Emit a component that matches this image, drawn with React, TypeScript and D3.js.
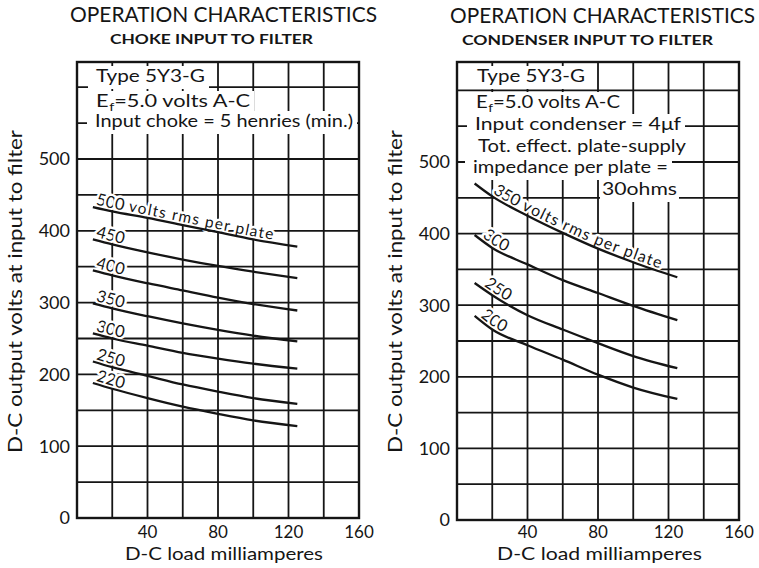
import React from "react";
import * as d3 from "d3";

// ---------------- data ----------------
const xTickValues = [40, 80, 120, 160];
const yTickValues = [0, 100, 200, 300, 400, 500];
const xGridValues = [0, 20, 40, 60, 80, 100, 120, 140, 160];
const yGridValues = [0, 50, 100, 150, 200, 250, 300, 350, 400, 450, 500, 550, 600];

// Choke input (left)
const chokeLoadMa = [9, 20, 40, 60, 80, 100, 125];
const choke500 = [433, 427, 418, 408, 398, 388, 378];
const choke450 = [388, 381, 370, 360, 351, 343, 334];
const choke400 = [345, 338, 327, 317, 307, 298, 289];
const choke350 = [299, 292, 281, 271, 262, 254, 246];
const choke300 = [257, 250, 240, 230, 222, 215, 208];
const choke250 = [218, 210, 198, 186, 176, 167, 159];
const choke220 = [188, 180, 167, 155, 145, 136, 128];
const chokeLabels = ["500", "450", "400", "350", "300", "250", "220"];

// Condenser input (right)
const condLoadMa = [10, 20, 40, 60, 80, 100, 125];
const cond350 = [470, 452, 425, 401, 379, 360, 339];
const cond300 = [398, 380, 357, 335, 317, 299, 279];
const cond250 = [331, 314, 286, 266, 247, 229, 212];
const cond200 = [285, 266, 244, 224, 203, 185, 169];
const condLabels = ["350", "300", "250", "200"];

const chokeNotes = ["Type 5Y3-G", "E|f|=5.0 volts A-C", "Input choke = 5 henries (min.)"];
const condNotes = [
  "Type 5Y3-G",
  "E|f|=5.0 volts A-C",
  "Input condenser = 4μf",
  "Tot. effect. plate-supply",
  "impedance per plate =",
  "30ohms",
];

const titleText = "OPERATION CHARACTERISTICS";
const chokeSubtitle = "CHOKE INPUT TO FILTER";
const condSubtitle = "CONDENSER INPUT TO FILTER";
const yTitle = "D-C output volts at input to filter";
const xTitle = "D-C load milliamperes";
const rmsSuffix = " volts rms per plate";

// ---------------- layout ----------------
const W = 759;
const H = 568;
const FONT = "Lato, 'DejaVu Sans', sans-serif";
const INK = "#151515";

type NoteLayout = { x: number; y: number; w: number };

const leftLayout = {
  id: "choke",
  x0: 77,
  x1: 359,
  yZero: 518,
  y500: 159,
  top: 62,
  titleX: 70,
  titleY: 22,
  titleW: 307,
  subX: 110,
  subY: 44,
  subW: 203,
  yTitleX: 22,
  xTitleX: 125,
  xTitleW: 198,
  labelOffsets: [2, 2, 2, 2, 2, 2, 2],
  suffixSize: 15.5,
  notes: [
    { x: 96, y: 82, w: 109 },
    { x: 96, y: 107, w: 154 },
    { x: 95, y: 127, w: 258 },
  ] as NoteLayout[],
};

const rightLayout = {
  id: "cond",
  x0: 457,
  x1: 739,
  yZero: 520,
  y500: 162,
  top: 62,
  titleX: 450,
  titleY: 23,
  titleW: 305,
  subX: 462,
  subY: 45,
  subW: 251,
  yTitleX: 402,
  xTitleX: 497,
  xTitleW: 205,
  labelOffsets: [20, 7, 9, 5],
  suffixSize: 16,
  notes: [
    { x: 477, y: 82, w: 108 },
    { x: 476, y: 108, w: 144 },
    { x: 475, y: 130, w: 206 },
    { x: 478, y: 152, w: 208 },
    { x: 473, y: 173, w: 195 },
    { x: 602, y: 195, w: 75 },
  ] as NoteLayout[],
};

type Layout = typeof leftLayout;

function NoteText({ text, n }: { text: string; n: NoteLayout }) {
  const parts = text.split("|");
  return (
    <text
      x={n.x}
      y={n.y}
      fontFamily={FONT}
      fontSize={18}
      fill={INK}
      textLength={n.w}
      lengthAdjust="spacingAndGlyphs"
    >
      {parts.length === 3 ? (
        <>
          <tspan>{parts[0]}</tspan>
          <tspan fontSize={12} dy={4} dx={0.5}>
            {parts[1]}
          </tspan>
          <tspan dy={-4}>{parts[2]}</tspan>
        </>
      ) : (
        text
      )}
    </text>
  );
}

function Panel({
  L,
  loads,
  series,
  labels,
  subtitle,
  notes,
}: {
  L: Layout;
  loads: number[];
  series: number[][];
  labels: string[];
  subtitle: string;
  notes: string[];
}) {
  const x = d3.scaleLinear().domain([0, 160]).range([L.x0, L.x1]);
  const y = d3.scaleLinear().domain([0, 500]).range([L.yZero, L.y500]);
  const line = d3
    .line<[number, number]>()
    .x((d) => x(d[0]))
    .y((d) => y(d[1]))
    .curve(d3.curveMonotoneX);

  const halo = {
    stroke: "#fff",
    strokeWidth: 5,
    strokeLinejoin: "round" as const,
    paintOrder: "stroke",
  };

  return (
    <g>
      {/* titles */}
      <text
        x={L.titleX}
        y={L.titleY}
        fontFamily={FONT}
        fontSize={21}
        fill={INK}
        textLength={L.titleW}
        lengthAdjust="spacingAndGlyphs"
      >
        {titleText}
      </text>
      <text
        x={L.subX}
        y={L.subY}
        fontFamily={FONT}
        fontSize={12.5}
        fontWeight={700}
        fill={INK}
        textLength={L.subW}
        lengthAdjust="spacingAndGlyphs"
      >
        {subtitle}
      </text>

      {/* grid */}
      {xGridValues.map((v) => (
        <line
          key={"vx" + v}
          x1={x(v)}
          x2={x(v)}
          y1={L.top}
          y2={y(0)}
          stroke={INK}
          strokeWidth={1.8}
        />
      ))}
      {yGridValues.map((v) => (
        <line
          key={"hy" + v}
          x1={x(0)}
          x2={x(160)}
          y1={y(v)}
          y2={y(v)}
          stroke={INK}
          strokeWidth={1.8}
        />
      ))}

      {/* white blocks behind notes */}
      {L.notes.map((n, i) => (
        <rect
          key={"nr" + i}
          x={n.x - (i === L.notes.length - 1 && notes.length > 3 ? 2 : 8)}
          y={n.y - 16}
          width={n.w + (i === L.notes.length - 1 && notes.length > 3 ? 4 : 12)}
          height={23}
          fill="#fff"
        />
      ))}

      {/* frame */}
      <rect
        x={x(0)}
        y={L.top}
        width={x(160) - x(0)}
        height={y(0) - L.top}
        fill="none"
        stroke={INK}
        strokeWidth={2.4}
      />

      {/* notes */}
      {notes.map((t, i) => (
        <NoteText key={"nt" + i} text={t} n={L.notes[i]} />
      ))}

      {/* curve paths (defs) */}
      <defs>
        {series.map((vals, i) => (
          <path
            key={"def" + i}
            id={`${L.id}-curve-${i}`}
            d={line(loads.map((l, k) => [l, vals[k]] as [number, number])) || ""}
          />
        ))}
      </defs>

      {/* curve labels */}
      {series.map((_, i) => (
        <text key={"lab" + i} fontFamily={FONT} fontSize={16.5} fill={INK} {...halo}>
          <textPath href={`#${L.id}-curve-${i}`} startOffset={L.labelOffsets[i]}>
            <tspan dy={-3}>{labels[i]}</tspan>
            {i === 0 ? (
              <tspan fontSize={L.suffixSize} letterSpacing={1.2}>
                {rmsSuffix}
              </tspan>
            ) : null}
          </textPath>
        </text>
      ))}

      {/* curves */}
      {series.map((vals, i) => (
        <path
          key={"c" + i}
          d={line(loads.map((l, k) => [l, vals[k]] as [number, number])) || ""}
          fill="none"
          stroke={INK}
          strokeWidth={2.3}
        />
      ))}

      {/* y tick labels */}
      {yTickValues.map((v) => (
        <text
          key={"yt" + v}
          x={x(0) - 7}
          y={y(v)}
          dy="0.36em"
          textAnchor="end"
          fontFamily={FONT}
          fontSize={18}
          fill={INK}
        >
          {v}
        </text>
      ))}

      {/* x tick labels */}
      {xTickValues.map((v) => (
        <text
          key={"xt" + v}
          x={x(v)}
          y={538}
          textAnchor="middle"
          fontFamily={FONT}
          fontSize={17}
          fill={INK}
        >
          {v}
        </text>
      ))}

      {/* axis titles */}
      <text
        x={L.xTitleX}
        y={560}
        fontFamily={FONT}
        fontSize={18}
        fill={INK}
        textLength={L.xTitleW}
        lengthAdjust="spacingAndGlyphs"
      >
        {xTitle}
      </text>
      <text
        transform={`translate(${L.yTitleX},${291.5}) rotate(-90)`}
        textAnchor="middle"
        fontFamily={FONT}
        fontSize={19}
        fill={INK}
        textLength={323}
        lengthAdjust="spacingAndGlyphs"
      >
        {yTitle}
      </text>
    </g>
  );
}

export default function App() {
  return (
    <svg
      width={W}
      height={H}
      viewBox={`0 0 ${W} ${H}`}
      style={{ position: "absolute", left: 0, top: 0, background: "#fff" }}
    >
      <rect x={0} y={0} width={W} height={H} fill="#fff" />
      <Panel
        L={leftLayout}
        loads={chokeLoadMa}
        series={[choke500, choke450, choke400, choke350, choke300, choke250, choke220]}
        labels={chokeLabels}
        subtitle={chokeSubtitle}
        notes={chokeNotes}
      />
      <Panel
        L={rightLayout}
        loads={condLoadMa}
        series={[cond350, cond300, cond250, cond200]}
        labels={condLabels}
        subtitle={condSubtitle}
        notes={condNotes}
      />
    </svg>
  );
}
